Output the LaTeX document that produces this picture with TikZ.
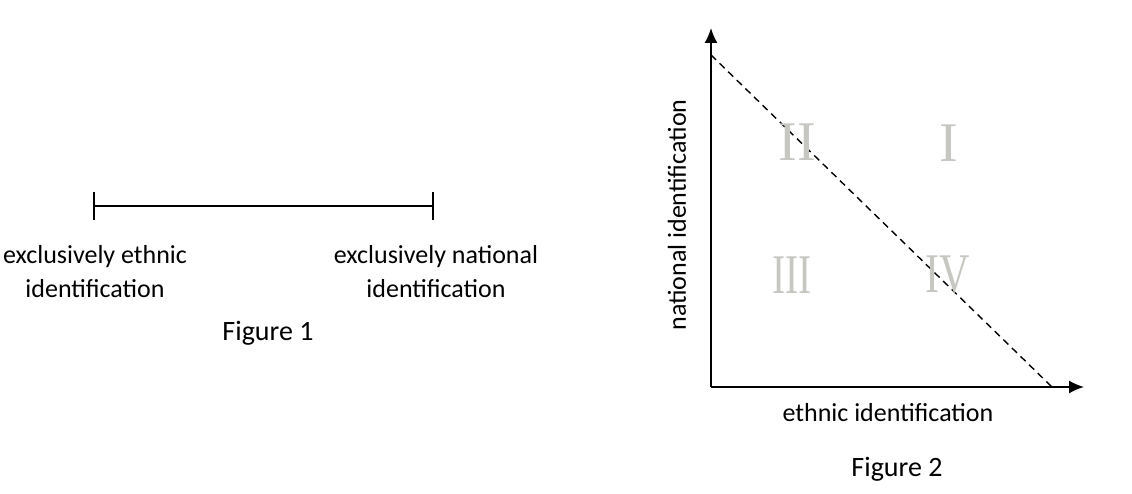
\documentclass[tikz,border=0pt]{standalone}
\usepackage{fontspec}
\setmainfont{Carlito}
\newfontfamily\numfont{Liberation Serif}
\usetikzlibrary{arrows.meta}

\begin{document}
\begin{tikzpicture}[>={Latex[length=15bp,width=13bp]},line join=bevel,
  every node/.style={font=\fontsize{26bp}{34bp}\selectfont},
  caption/.style={font=\fontsize{28bp}{34bp}\selectfont},
  numeral/.style={text=numcol,inner sep=0pt,transform shape,
    font=\fontsize{56bp}{56bp}\selectfont\numfont}]
%%
\useasboundingbox (0bp,0bp) rectangle (1132bp,494bp);
\definecolor{numcol}{rgb}{0.78,0.78,0.76};
%% Figure 1
\begin{scope}
  \coordinate (Fig1Left) at (93bp,288bp);
  \coordinate (Fig1Right) at (434bp,288bp);
  \draw [line width=1.6bp,{Bar[width=28bp]}-{Bar[width=28bp]}] (Fig1Left) -- (Fig1Right);
  \node (Fig1EthnicLabel) at (95bp,222bp) [align=center] {exclusively ethnic\\identification};
  \node (Fig1NationalLabel) at (436bp,222bp) [align=center] {exclusively national\\identification};
  \node (Fig1Caption) at (268bp,161bp) [caption] {Figure 1};
\end{scope}
%% Figure 2
\begin{scope}
  \coordinate (Fig2Origin) at (711bp,107bp);
  \coordinate (Fig2YTip) at (711bp,466bp);
  \coordinate (Fig2XTip) at (1084bp,107bp);
  \coordinate (Fig2DashTop) at (711bp,439bp);
  \coordinate (Fig2DashEnd) at (1052bp,107bp);
  \draw [line width=1.6bp,->] (Fig2Origin) -- (Fig2YTip);
  \draw [line width=1.6bp,->] (Fig2Origin) -- (Fig2XTip);
  \draw [line width=1.4bp,dash pattern=on 7bp off 5bp] (Fig2DashTop) -- (Fig2DashEnd);
  \node (Fig2YLabel) at (677bp,279bp) [rotate=90] {national identification};
  \node (Fig2XLabel) at (888bp,81bp) {ethnic identification};
  \node (Fig2Caption) at (897bp,25bp) [caption] {Figure 2};
  \node (QuadII) at (797bp,352bp) [numeral] {II};
  \node (QuadI) at (949bp,351bp) [numeral] {I};
  \node (QuadIII) at (792bp,219bp) [numeral,xscale=0.7] {III};
  \node (QuadIV) at (948bp,219bp) [numeral,xscale=0.75] {IV};
\end{scope}
%
\end{tikzpicture}
\end{document}
